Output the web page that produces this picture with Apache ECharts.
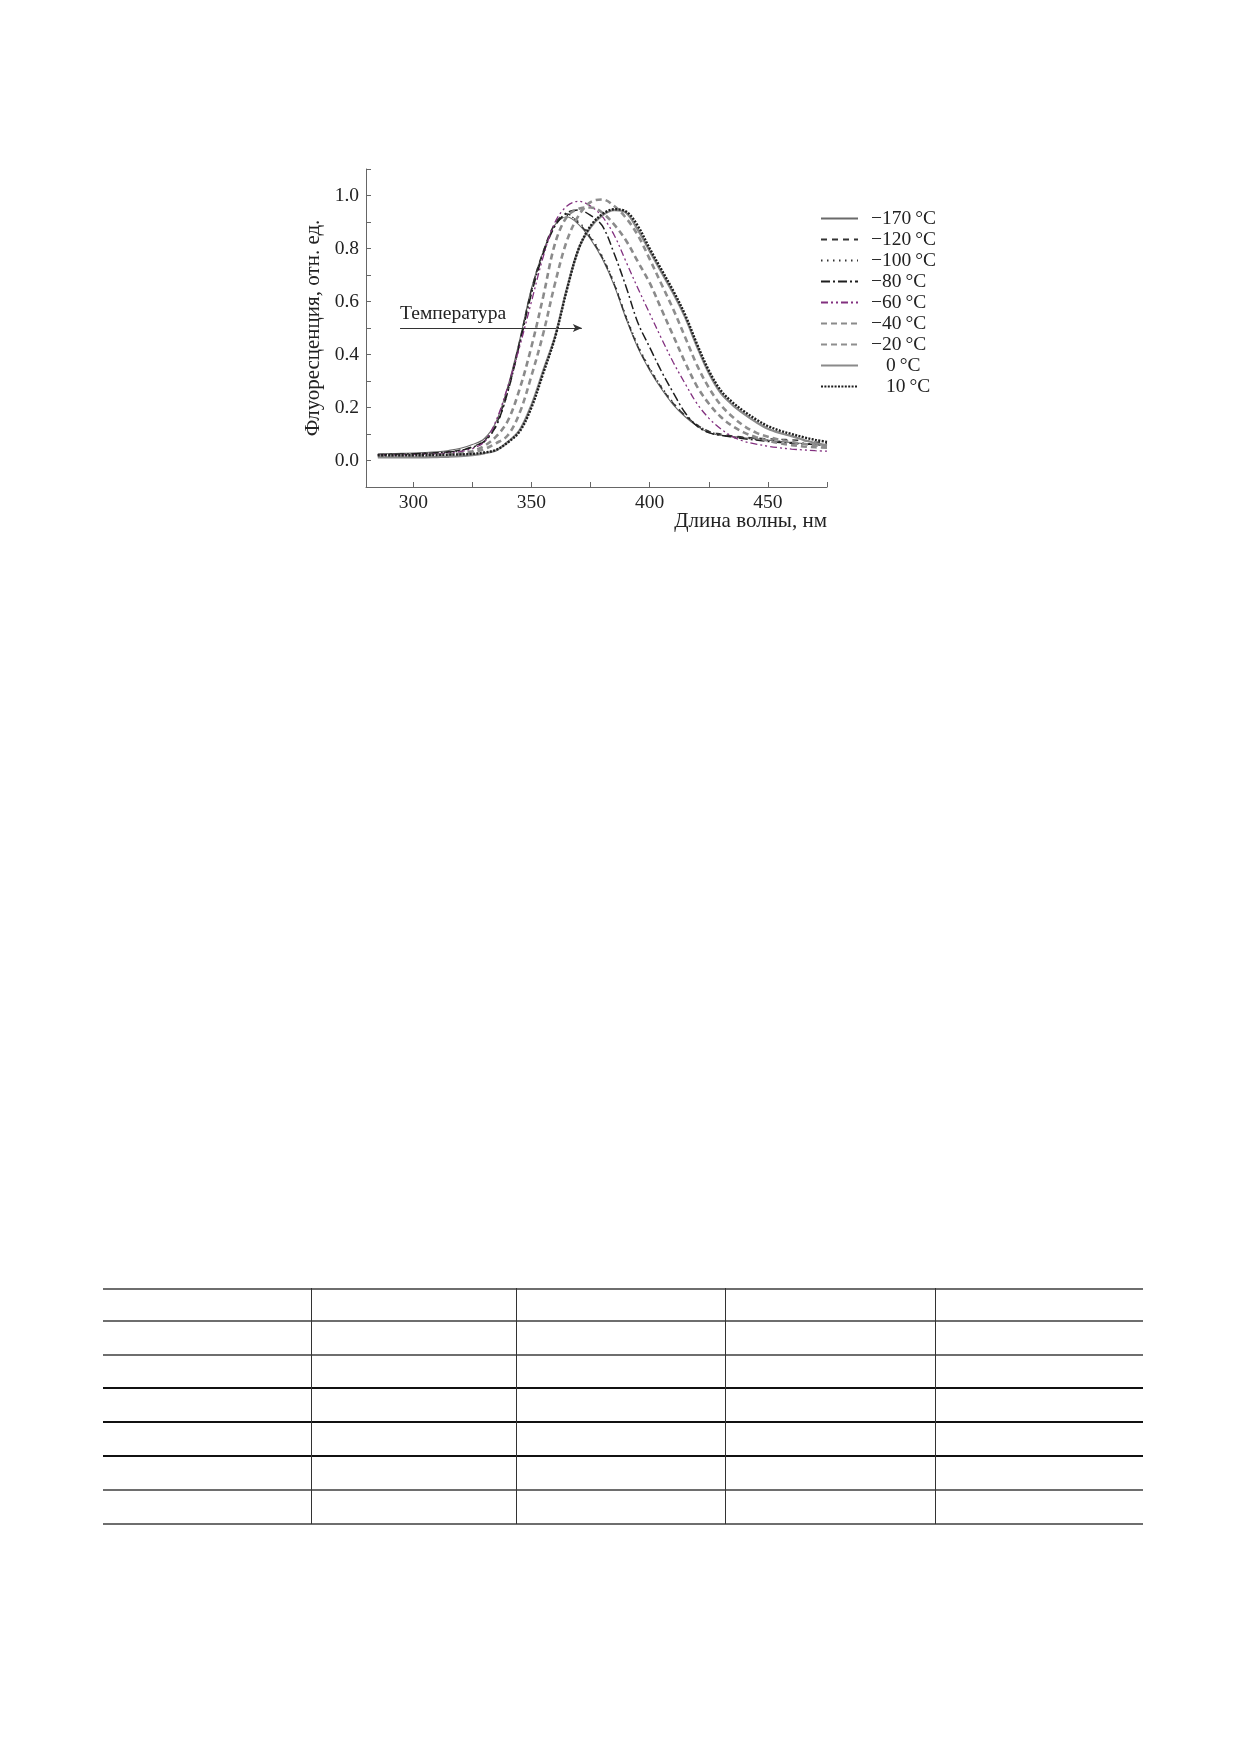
<!DOCTYPE html>
<html>
<head>
<meta charset="utf-8">
<script src="https://cdn.jsdelivr.net/npm/echarts@6/dist/echarts.min.js"></script>
<style>
  html, body { margin: 0; padding: 0; background: #fff; }
  #page { position: relative; width: 1240px; height: 1754px; background: #fff; }
  #chart { position: absolute; left: 0; top: 0; width: 1240px; height: 600px; }
  .hl { position: absolute; left: 103px; width: 1040px; height: 2px; background: #6e6e6e; }
  .hl.dark { background: #111; height: 2px; }
  .vl { position: absolute; top: 1288px; height: 236px; width: 1px; background: #333; }
</style>
</head>
<body>
<div id="page">
  <div id="chart"></div>
  <div class="hl" style="top:1288px"></div>
  <div class="hl" style="top:1320px"></div>
  <div class="hl" style="top:1354px"></div>
  <div class="hl dark" style="top:1387px"></div>
  <div class="hl dark" style="top:1421px"></div>
  <div class="hl dark" style="top:1455px"></div>
  <div class="hl" style="top:1489px"></div>
  <div class="hl" style="top:1523px"></div>
  <div class="vl" style="left:311px"></div>
  <div class="vl" style="left:516px"></div>
  <div class="vl" style="left:725px"></div>
  <div class="vl" style="left:935px"></div>
</div>
<script>
// ---- data ----
const wavelengths = [285,290,295,300,305,310,315,320,325,330,335,340,345,350,355,360,365,370,375,380,385,390,395,400,405,410,415,420,425,430,435,440,445,450,455,460,465,470,475];

const seriesNames = ['−170\u2009°C','−120\u2009°C','−100\u2009°C','−80\u2009°C','−60\u2009°C','−40\u2009°C','−20\u2009°C','0\u2009°C','10\u2009°C'];

const m170 = [0.025,0.026,0.027,0.028,0.030,0.033,0.038,0.046,0.060,0.082,0.145,0.28,0.455,0.65,0.79,0.89,0.92,0.89,0.835,0.76,0.66,0.535,0.425,0.34,0.27,0.21,0.165,0.13,0.105,0.095,0.09,0.086,0.082,0.077,0.072,0.068,0.064,0.06,0.057];
const m120 = [0.022,0.023,0.024,0.025,0.027,0.029,0.033,0.040,0.052,0.075,0.135,0.27,0.45,0.645,0.79,0.895,0.93,0.895,0.84,0.765,0.665,0.54,0.43,0.345,0.275,0.215,0.17,0.135,0.11,0.10,0.093,0.088,0.085,0.082,0.08,0.078,0.075,0.07,0.065];
const m100 = [0.02,0.021,0.022,0.023,0.025,0.027,0.030,0.036,0.047,0.07,0.128,0.26,0.44,0.64,0.785,0.89,0.925,0.90,0.845,0.77,0.67,0.545,0.435,0.35,0.278,0.218,0.17,0.135,0.11,0.097,0.09,0.085,0.08,0.076,0.072,0.068,0.065,0.062,0.06];
const m80 = [0.022,0.023,0.024,0.025,0.027,0.029,0.032,0.038,0.05,0.072,0.13,0.26,0.44,0.63,0.78,0.885,0.935,0.945,0.925,0.885,0.78,0.656,0.52,0.427,0.336,0.255,0.18,0.13,0.105,0.095,0.088,0.082,0.077,0.072,0.068,0.065,0.062,0.06,0.058];
const m60 = [0.02,0.02,0.021,0.022,0.023,0.025,0.028,0.033,0.045,0.07,0.15,0.28,0.43,0.60,0.77,0.90,0.96,0.978,0.96,0.92,0.85,0.75,0.65,0.555,0.46,0.37,0.29,0.215,0.16,0.12,0.09,0.072,0.062,0.054,0.048,0.043,0.04,0.037,0.035];
const m40 = [0.018,0.018,0.019,0.019,0.02,0.021,0.023,0.027,0.035,0.055,0.09,0.15,0.27,0.43,0.62,0.82,0.92,0.95,0.955,0.935,0.89,0.83,0.75,0.67,0.57,0.47,0.37,0.28,0.215,0.165,0.13,0.105,0.088,0.075,0.065,0.058,0.053,0.05,0.048];
const m20 = [0.016,0.016,0.017,0.017,0.018,0.019,0.02,0.023,0.03,0.043,0.065,0.095,0.18,0.32,0.48,0.67,0.83,0.925,0.975,0.985,0.96,0.915,0.85,0.76,0.665,0.57,0.465,0.36,0.275,0.21,0.165,0.13,0.105,0.09,0.078,0.07,0.063,0.057,0.053];
const p0 = [0.012,0.012,0.012,0.012,0.012,0.013,0.014,0.016,0.02,0.027,0.038,0.07,0.115,0.21,0.34,0.47,0.65,0.80,0.88,0.925,0.945,0.935,0.87,0.79,0.71,0.63,0.54,0.43,0.33,0.255,0.21,0.175,0.145,0.12,0.104,0.092,0.078,0.066,0.058];
const p10 = [0.02,0.02,0.02,0.02,0.02,0.021,0.022,0.023,0.025,0.03,0.04,0.068,0.11,0.20,0.33,0.465,0.645,0.80,0.885,0.93,0.948,0.94,0.885,0.80,0.72,0.64,0.55,0.44,0.34,0.265,0.22,0.185,0.155,0.13,0.113,0.10,0.088,0.078,0.07];

const xTickValues = [300,325,350,375,400,425,450,475];
const xLabelValues = [300,350,400,450];
const yTickValues = [-0.1,0,0.1,0.2,0.3,0.4,0.5,0.6,0.7,0.8,0.9,1.0,1.1];
const yLabelValues = [0,0.2,0.4,0.6,0.8,1.0];

const arrowStart = [294.4, 0.5];
const arrowEnd = [371.3, 0.5];
const arrowLabel = 'Температура';

// ---- styles ----
const allValues = [m170, m120, m100, m80, m60, m40, m20, p0, p10];
const styles = [
  { color: '#6a6a6a', width: 1.1, type: 'solid' },
  { color: '#333333', width: 1.4, type: [6, 5] },
  { color: '#333333', width: 1.4, type: [1.5, 4.5] },
  { color: '#1e1e1e', width: 1.5, type: [9, 3, 2, 3] },
  { color: '#82307f', width: 1.3, type: [7, 3, 2, 3, 2, 3] },
  { color: '#8a8a8a', width: 2.6, type: [6, 4] },
  { color: '#8e8e8e', width: 2.6, type: [6, 4] },
  { color: '#8a8a8a', width: 2.2, type: 'solid' },
  { color: '#1e1e1e', width: 2.4, type: [2, 1.4] }
];

const FONT = 'Liberation Serif';

const series = allValues.map((vals, i) => ({
  name: seriesNames[i],
  type: 'line',
  data: wavelengths.map((w, k) => [w, vals[k]]),
  showSymbol: false,
  symbol: 'none',
  smooth: 0.35,
  color: styles[i].color,
  lineStyle: styles[i],
  z: 2 + i
}));
series[0].markLine = {
  silent: true,
  symbol: ['none', 'arrow'],
  symbolSize: [6, 9],
  lineStyle: { color: '#333', width: 1, type: 'solid' },
  label: {
    show: true,
    position: 'insideStartTop',
    formatter: arrowLabel,
    fontFamily: FONT,
    fontSize: 19.6,
    color: '#222',
    distance: [0, 4]
  },
  data: [[{ coord: arrowStart }, { coord: arrowEnd }]]
};

const chart = echarts.init(document.getElementById('chart'), null, { renderer: 'canvas' });
chart.setOption({
  animation: false,
  backgroundColor: '#fff',
  grid: { left: 366, top: 169, right: 413, bottom: 113, containLabel: false },
  legend: {
    orient: 'vertical',
    left: 815,
    top: 203.5,
    itemWidth: 37,
    itemHeight: 14,
    itemGap: 1,
    data: seriesNames,
    itemStyle: { opacity: 0, borderWidth: 0 },
    formatter: function (name) {
      return (name.charAt(0) === '−' ? '{a|}' : '{b|}') + '{t|' + name + '}';
    },
    textStyle: {
      fontFamily: FONT,
      fontSize: 19.5,
      lineHeight: 19,
      color: '#222',
      rich: {
        a: { width: 8 },
        b: { width: 23 },
        t: { fontFamily: FONT, fontSize: 19.5, lineHeight: 19, color: '#222' }
      }
    }
  },
  xAxis: {
    type: 'value',
    min: 280,
    max: 475,
    name: 'Длина волны, нм',
    nameLocation: 'end',
    nameGap: 0,
    nameMoveOverlap: false,
    nameTextStyle: {
      fontFamily: FONT, fontSize: 21, color: '#222',
      align: 'right', verticalAlign: 'top', padding: [24, 0, 0, 0]
    },
    axisLine: { show: true, onZero: false, lineStyle: { color: '#666', width: 1 } },
    axisTick: { show: true, inside: true, length: 5, customValues: xTickValues, lineStyle: { color: '#666' } },
    axisLabel: { customValues: xLabelValues, fontFamily: FONT, fontSize: 19.5, color: '#222', margin: 6 },
    splitLine: { show: false }
  },
  yAxis: {
    type: 'value',
    min: -0.1,
    max: 1.1,
    interval: 0.1,
    name: 'Флуоресценция, отн. ед.',
    nameLocation: 'middle',
    nameGap: 42,
    nameRotate: 90,
    nameMoveOverlap: false,
    nameTextStyle: { fontFamily: FONT, fontSize: 21, color: '#222' },
    axisLine: { show: true, onZero: false, lineStyle: { color: '#666', width: 1 } },
    axisTick: { show: true, inside: true, length: 5, customValues: yTickValues, lineStyle: { color: '#666' } },
    axisLabel: {
      customValues: yLabelValues,
      fontFamily: FONT, fontSize: 19.5, color: '#222', margin: 7,
      formatter: function (v) { return Number(v).toFixed(1); }
    },
    splitLine: { show: false }
  },
  series: series
});
</script>
</body>
</html>
